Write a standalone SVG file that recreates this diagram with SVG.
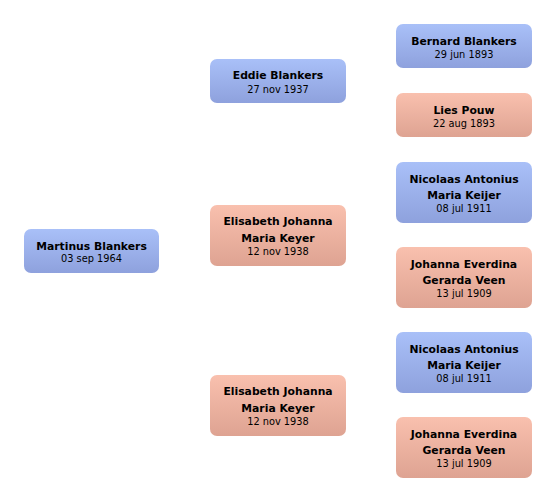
<svg xmlns="http://www.w3.org/2000/svg" width="556" height="502" viewBox="0 0 556 502">
<defs>
<linearGradient id="gb" x1="0" y1="0" x2="0" y2="1"><stop offset="0" stop-color="#a9c0f8"/><stop offset="1" stop-color="#8ea1dd"/></linearGradient>
<linearGradient id="gp" x1="0" y1="0" x2="0" y2="1"><stop offset="0" stop-color="#f9c0ae"/><stop offset="1" stop-color="#dea392"/></linearGradient>
</defs>
<style>
.m rect{fill:url(#gb)}
.f rect{fill:url(#gp)}
text{font-family:"DejaVu Sans","Liberation Sans",Arial,sans-serif;text-anchor:middle;fill:#000}
.n{font-size:10.8px;font-weight:bold}
.d{font-size:9.8px}
</style>
<rect width="556" height="502" fill="#fff"/>
<g id="connectors"></g>
<g id="martinus" class="m"><rect x="24" y="229" width="135" height="44" rx="7"/><text class="n" x="91.5" y="249.5">Martinus Blankers</text><text class="d" x="91.5" y="262">03 sep 1964</text></g>
<g id="eddie" class="m"><rect x="210" y="59" width="136" height="44" rx="7"/><text class="n" x="278" y="79">Eddie Blankers</text><text class="d" x="278" y="92.5">27 nov 1937</text></g>
<g id="elisabeth1" class="f"><rect x="210" y="205" width="136" height="61" rx="7"/><text class="n" x="278" y="225">Elisabeth Johanna</text><text class="n" x="278" y="241.5">Maria Keyer</text><text class="d" x="278" y="254.5">12 nov 1938</text></g>
<g id="elisabeth2" class="f"><rect x="210" y="375" width="136" height="61" rx="7"/><text class="n" x="278" y="395">Elisabeth Johanna</text><text class="n" x="278" y="411.5">Maria Keyer</text><text class="d" x="278" y="424.5">12 nov 1938</text></g>
<g id="bernard" class="m"><rect x="396" y="24" width="136" height="44" rx="7"/><text class="n" x="464" y="45">Bernard Blankers</text><text class="d" x="464" y="57.5">29 jun 1893</text></g>
<g id="lies" class="f"><rect x="396" y="93" width="136" height="44" rx="7"/><text class="n" x="464" y="114">Lies Pouw</text><text class="d" x="464" y="126.5">22 aug 1893</text></g>
<g id="nicolaas1" class="m"><rect x="396" y="162" width="136" height="61" rx="7"/><text class="n" x="464" y="182.5">Nicolaas Antonius</text><text class="n" x="464" y="199">Maria Keijer</text><text class="d" x="464" y="211.5">08 jul 1911</text></g>
<g id="johanna1" class="f"><rect x="396" y="247" width="136" height="61" rx="7"/><text class="n" x="464" y="267.5">Johanna Everdina</text><text class="n" x="464" y="284">Gerarda Veen</text><text class="d" x="464" y="296.5">13 jul 1909</text></g>
<g id="nicolaas2" class="m"><rect x="396" y="332" width="136" height="61" rx="7"/><text class="n" x="464" y="352.5">Nicolaas Antonius</text><text class="n" x="464" y="369">Maria Keijer</text><text class="d" x="464" y="381.5">08 jul 1911</text></g>
<g id="johanna2" class="f"><rect x="396" y="417" width="136" height="61" rx="7"/><text class="n" x="464" y="437.5">Johanna Everdina</text><text class="n" x="464" y="454">Gerarda Veen</text><text class="d" x="464" y="466.5">13 jul 1909</text></g>
</svg>
